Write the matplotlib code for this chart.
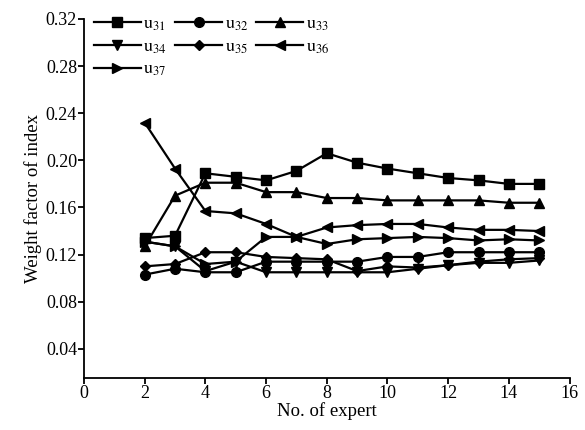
import matplotlib
matplotlib.use("Agg")
import matplotlib.pyplot as plt

plt.rcParams['font.family'] = 'Liberation Serif'
plt.rcParams['mathtext.fontset'] = 'stix'

# No. of expert
experts = [2, 3, 4, 5, 6, 7, 8, 9, 10, 11, 12, 13, 14, 15]

# weight factors
u31 = [0.134, 0.136, 0.189, 0.186, 0.183, 0.191, 0.206, 0.198, 0.193, 0.189, 0.185, 0.183, 0.180, 0.180]
u32 = [0.103, 0.108, 0.105, 0.105, 0.114, 0.114, 0.114, 0.114, 0.118, 0.118, 0.122, 0.122, 0.122, 0.122]
u33 = [0.127, 0.170, 0.181, 0.181, 0.173, 0.173, 0.168, 0.168, 0.166, 0.166, 0.166, 0.166, 0.164, 0.164]
u34 = [0.131, 0.127, 0.106, 0.114, 0.105, 0.105, 0.105, 0.105, 0.105, 0.108, 0.111, 0.113, 0.113, 0.115]
u35 = [0.110, 0.112, 0.122, 0.122, 0.118, 0.117, 0.116, 0.106, 0.110, 0.109, 0.111, 0.114, 0.116, 0.117]
u36 = [0.232, 0.193, 0.157, 0.155, 0.146, 0.135, 0.143, 0.145, 0.146, 0.146, 0.143, 0.141, 0.141, 0.140]
u37 = [0.131, 0.127, 0.112, 0.114, 0.135, 0.135, 0.129, 0.133, 0.134, 0.135, 0.134, 0.132, 0.133, 0.132]

series = [u31, u32, u33, u34, u35, u36, u37]
names = [r'$\mathrm{u}_{31}$', r'$\mathrm{u}_{32}$', r'$\mathrm{u}_{33}$',
         r'$\mathrm{u}_{34}$', r'$\mathrm{u}_{35}$', r'$\mathrm{u}_{36}$',
         r'$\mathrm{u}_{37}$']
markers = ['s', 'o', '^', 'v', 'D', '<', '>']
msizes = [7, 7, 7, 7, 5.5, 7, 7]

fig = plt.figure(figsize=(5.85, 4.3), dpi=100)
ax = fig.add_axes([0.1436, 0.121, 0.830, 0.835])

lines = []
for vals, nm, mk, ms in zip(series, names, markers, msizes):
    ln, = ax.plot(experts, vals, color='black', lw=1.6, marker=mk, markersize=ms, label=nm)
    lines.append(ln)

ax.set_xlim(0, 16)
ax.set_ylim(0.0153, 0.32)
ax.set_xticks(range(0, 17, 2))
ax.set_yticks([0.04, 0.08, 0.12, 0.16, 0.20, 0.24, 0.28, 0.32])
ax.set_yticklabels(['0.04', '0.08', '0.12', '0.16', '0.20', '0.24', '0.28', '0.32'])
ax.spines['top'].set_visible(False)
ax.spines['right'].set_visible(False)
ax.spines['left'].set_linewidth(1.3)
ax.spines['bottom'].set_linewidth(1.3)
ax.tick_params(direction='out', length=4, width=1.3, labelsize=13, pad=1)
ax.set_xlabel('No. of expert', fontsize=13.5, labelpad=0)
ax.set_ylabel('Weight factor of index', fontsize=13.5, labelpad=3)

# legend filled row by row: reorder for column-major layout
order = [0, 3, 6, 1, 4, 2, 5]
ax.legend([lines[i] for i in order], [names[i] for i in order],
          loc='upper left', ncol=3, frameon=False, fontsize=13,
          handlelength=2.6, handletextpad=0.15, columnspacing=0.45,
          labelspacing=0.3, borderaxespad=0.0, bbox_to_anchor=(0.005, 1.03))

fig.savefig('out.png', dpi=100)
